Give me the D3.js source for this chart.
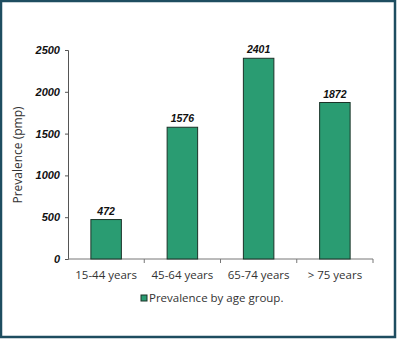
<!DOCTYPE html>
<html>
<head>
<meta charset="utf-8">
<script src="https://cdn.jsdelivr.net/npm/d3@7"></script>
<style>
  body { margin: 0; background: #fff; }
  .ylab { font-family: Arial, "Liberation Sans", sans-serif; font-weight: bold; font-style: italic; font-size: 10.5px; fill: #111; }
  .xlab, .title, .legend { font-family: "Open Sans", "Noto Sans", sans-serif; fill: #333; }
</style>
</head>
<body>
<svg></svg>
<script>
var width = 397, height = 339;
var categories = ["15-44 years", "45-64 years", "65-74 years", "> 75 years"];
var values = [472, 1576, 2401, 1872];
var yTicks = [0, 500, 1000, 1500, 2000, 2500];
var seriesName = "Prevalence by age group.";

var plot = { left: 68, right: 373, top: 50, bottom: 259 };

var svg = d3.select("svg").attr("width", width).attr("height", height);

// outer frame
svg.append("rect")
  .attr("x", 1).attr("y", 1)
  .attr("width", width - 3).attr("height", height - 3)
  .attr("fill", "#fff")
  .attr("stroke", "#1e4d60")
  .attr("stroke-width", 2.5);

var x = d3.scaleBand().domain(categories).range([plot.left, plot.right]).paddingInner(0.6).paddingOuter(0.3);
var xLine = d3.scaleBand().domain(categories).range([plot.left, plot.right]);
var y = d3.scaleLinear().domain([0, 2500]).range([plot.bottom, plot.top]);

// y axis
var yAxis = svg.append("g")
  .attr("transform", "translate(" + plot.left + ",0)")
  .call(d3.axisLeft(y).tickValues(yTicks).tickFormat(d3.format("d")).tickSize(3).tickPadding(5));
yAxis.select(".domain").attr("stroke", "#555");
yAxis.selectAll(".tick line").attr("stroke", "#555");
yAxis.selectAll("text").attr("class", "ylab").attr("fill", null).style("font-size", "11px");

// x axis
var xAxis = svg.append("g")
  .attr("transform", "translate(0," + plot.bottom + ")");
xAxis.append("line")
  .attr("x1", plot.left).attr("x2", plot.right)
  .attr("stroke", "#777");
xAxis.selectAll(".xt")
  .data(categories.slice(1).concat(["end"]))
  .enter().append("line")
  .attr("x1", (d, i) => plot.left + xLine.step() * (i + 1))
  .attr("x2", (d, i) => plot.left + xLine.step() * (i + 1))
  .attr("y1", 0).attr("y2", 4)
  .attr("stroke", "#777");
xAxis.selectAll(".xlab")
  .data(categories)
  .enter().append("text")
  .attr("class", "xlab")
  .attr("x", d => xLine(d) + xLine.bandwidth() / 2)
  .attr("y", 20)
  .attr("text-anchor", "middle")
  .style("font-size", "11.5px")
  .text(d => d);

// bars
svg.selectAll(".bar")
  .data(values)
  .enter().append("rect")
  .attr("x", (d, i) => x(categories[i]))
  .attr("y", d => y(d))
  .attr("width", x.bandwidth())
  .attr("height", d => plot.bottom - y(d))
  .attr("fill", "#2a9c72")
  .attr("stroke", "#1b3328")
  .attr("stroke-width", 1);

// value labels
svg.selectAll(".val")
  .data(values)
  .enter().append("text")
  .attr("class", "ylab")
  .attr("x", (d, i) => x(categories[i]) + x.bandwidth() / 2)
  .attr("y", d => y(d) - 5)
  .attr("text-anchor", "middle")
  .text(d => d);

// y title
svg.append("text")
  .attr("class", "title")
  .attr("transform", "translate(22,155) rotate(-90)")
  .attr("text-anchor", "middle")
  .style("font-size", "12px")
  .text("Prevalence (pmp)");

// legend
svg.append("rect")
  .attr("x", 141).attr("y", 295)
  .attr("width", 6).attr("height", 6)
  .attr("fill", "#2a9c72")
  .attr("stroke", "#1b3328")
  .attr("stroke-width", 1);
svg.append("text")
  .attr("class", "legend")
  .attr("x", 149).attr("y", 302)
  .style("font-size", "11.5px")
  .text(seriesName);
</script>
</body>
</html>
